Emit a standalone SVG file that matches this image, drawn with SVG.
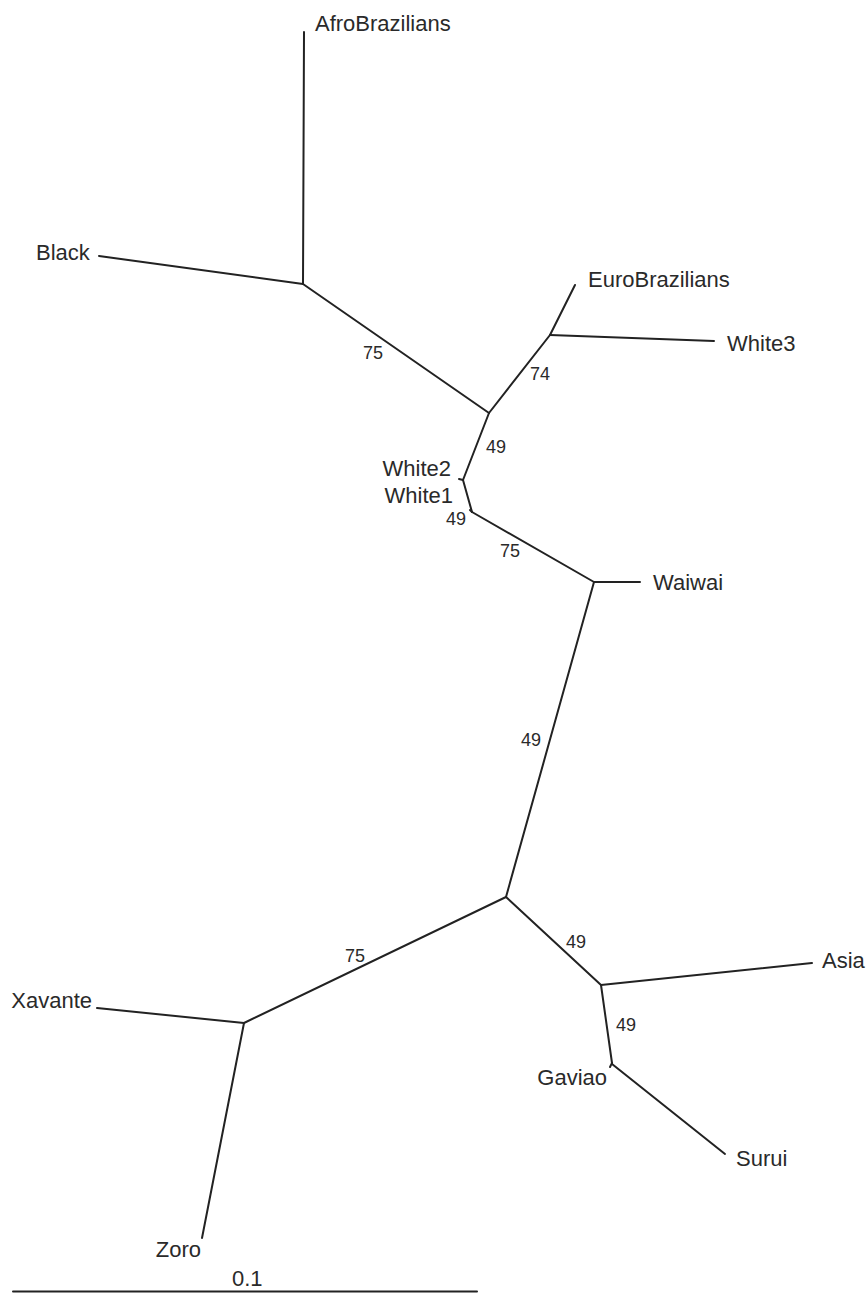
<svg xmlns="http://www.w3.org/2000/svg" width="867" height="1293" viewBox="0 0 867 1293">
<style>
.e{stroke:#222;stroke-width:2;fill:none;stroke-linecap:round;stroke-linejoin:round}
.t{font-family:"Liberation Sans",Arial,sans-serif;font-size:22px;fill:#2a2a2a}
.b{font-family:"Liberation Sans",Arial,sans-serif;font-size:18px;fill:#2a2a2a}
</style>
<rect width="867" height="1293" fill="#fff"/>
<g id="connectors">
<path class="e" d="M304,32 L303,284"/>
<path class="e" d="M99,256 L303,284"/>
<path class="e" d="M303,284 L489,413"/>
<path class="e" d="M489,413 L550,335"/>
<path class="e" d="M550,335 L575,285"/>
<path class="e" d="M550,335 L714,341"/>
<path class="e" d="M489,413 L463,480"/>
<path class="e" d="M463,480 L459,479"/>
<path class="e" d="M463,480 L472,512"/>
<path class="e" d="M472,512 L470,510"/>
<path class="e" d="M472,512 L594,582"/>
<path class="e" d="M594,582 L640,582"/>
<path class="e" d="M594,582 L506,897"/>
<path class="e" d="M506,897 L244,1023"/>
<path class="e" d="M244,1023 L97,1008"/>
<path class="e" d="M244,1023 L202,1238"/>
<path class="e" d="M506,897 L601,985"/>
<path class="e" d="M601,985 L812,963"/>
<path class="e" d="M601,985 L612,1063"/>
<path class="e" d="M612,1063 L610,1067"/>
<path class="e" d="M612,1064 L725,1154"/>
<path class="e" d="M13,1291.5 L477,1291.5"/>
</g>
<g id="n-afro"><text class="t" x="315" y="31">AfroBrazilians</text></g>
<g id="n-black"><text class="t" x="36" y="260">Black</text></g>
<g id="n-euro"><text class="t" x="588" y="287">EuroBrazilians</text></g>
<g id="n-white3"><text class="t" x="727" y="351">White3</text></g>
<g id="n-white2"><text class="t" x="451" y="476" text-anchor="end">White2</text></g>
<g id="n-white1"><text class="t" x="453" y="503" text-anchor="end">White1</text></g>
<g id="n-waiwai"><text class="t" x="653" y="590">Waiwai</text></g>
<g id="n-asia"><text class="t" x="822" y="968">Asia</text></g>
<g id="n-gaviao"><text class="t" x="607" y="1085" text-anchor="end">Gaviao</text></g>
<g id="n-surui"><text class="t" x="736" y="1166">Surui</text></g>
<g id="n-xavante"><text class="t" x="92" y="1008" text-anchor="end">Xavante</text></g>
<g id="n-zoro"><text class="t" x="201" y="1257" text-anchor="end">Zoro</text></g>
<g id="scale"><text class="t" x="232" y="1286">0.1</text></g>
<g id="bootstrap">
<text class="b" x="363" y="359">75</text>
<text class="b" x="530" y="380">74</text>
<text class="b" x="486" y="453">49</text>
<text class="b" x="446" y="525">49</text>
<text class="b" x="500" y="557">75</text>
<text class="b" x="521" y="746">49</text>
<text class="b" x="345" y="962">75</text>
<text class="b" x="566" y="948">49</text>
<text class="b" x="616" y="1031">49</text>
</g>
</svg>
